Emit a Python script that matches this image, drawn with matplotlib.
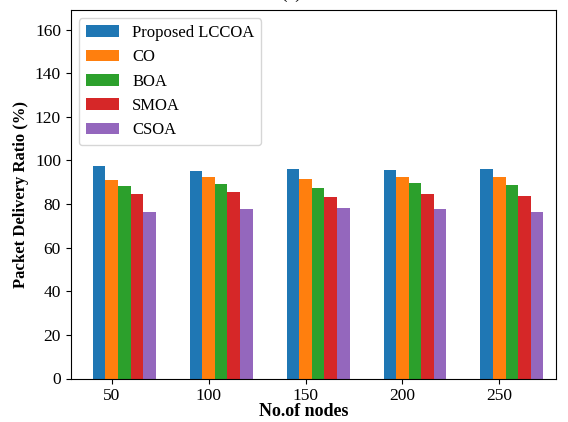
import numpy as np
import matplotlib
matplotlib.use("Agg")
import matplotlib.pyplot as plt

nodes = [50, 100, 150, 200, 250]
series_names = ["Proposed LCCOA", "CO", "BOA", "SMOA", "CSOA"]
lccoa = [97.5, 95.2, 96.1, 95.6, 96.1]
co = [91.0, 92.4, 91.5, 92.4, 92.4]
boa = [88.3, 89.2, 87.4, 89.7, 88.7]
smoa = [84.7, 85.5, 83.2, 84.6, 83.7]
csoa = [76.3, 77.7, 78.2, 77.7, 76.3]
colors = ["#1f77b4", "#ff7f0e", "#2ca02c", "#d62728", "#9467bd"]

plt.rcParams["font.family"] = ["Liberation Serif", "DejaVu Serif"]

W, H = 568, 422
fig = plt.figure(figsize=(W / 100, H / 100), dpi=100)
ax = fig.add_axes([70.7 / W, 1 - 378.5 / H, (556 - 70.7) / W, (378.5 - 10) / H])

x = np.arange(len(nodes))
width = 0.13
for i, (vals, name, c) in enumerate(zip([lccoa, co, boa, smoa, csoa], series_names, colors)):
    ax.bar(x + (i - 1) * width, vals, width, label=name, color=c)

ax.set_xticks(x)
ax.set_xticklabels([str(n) for n in nodes], fontsize=12.5)
ax.set_ylim(0, 169)
ax.set_yticks(np.arange(0, 161, 20))
ax.tick_params(axis="y", labelsize=12.5)
ax.set_xlim(-0.423, 4.585)
ax.set_xlabel("No.of nodes", fontsize=13, fontweight="bold")
ax.xaxis.set_label_coords(0.48, -0.066)
ax.set_ylabel("Packet Delivery Ratio (%)", fontsize=12, fontweight="bold")
ax.legend(loc="upper left", fontsize=12)

fig.text(291 / W, 1 - 2 / H, "(a)", ha="center", va="bottom", fontsize=14)

fig.savefig("out.png", dpi=100)
